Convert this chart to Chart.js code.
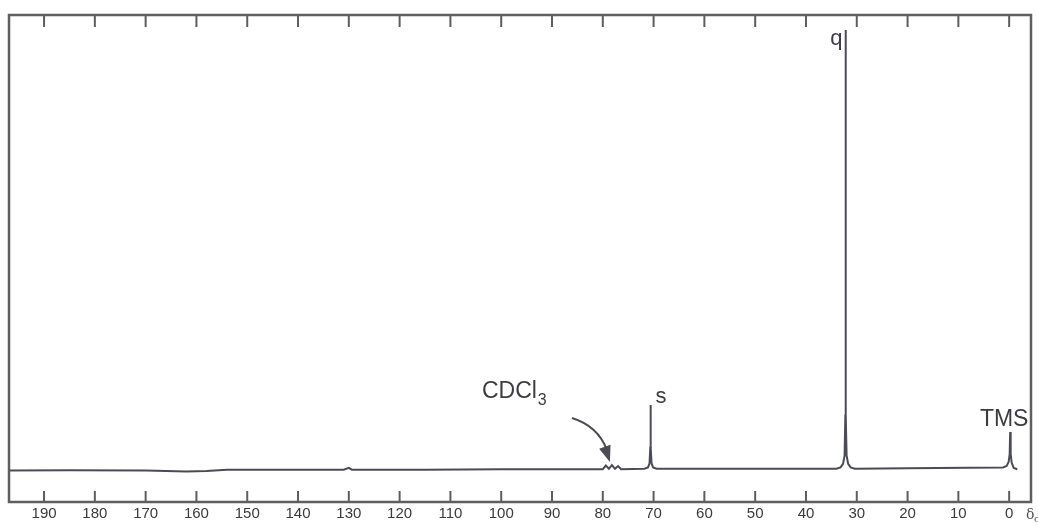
<!DOCTYPE html>
<html>
<head>
<meta charset="utf-8">
<script src="https://cdn.jsdelivr.net/npm/chart.js@4.4.0/dist/chart.umd.min.js"></script>
<style>
    html, body { margin: 0; padding: 0; background: #fff; }
    #wrap { width: 1038px; height: 525px; position: relative; }
</style>
</head>
<body>
<div id="wrap"><canvas id="nmrChart"></canvas></div>
<script>
// chemical shift (ppm) and relative intensity
const shifts = [
    196.9, 185, 170, 162, 158, 154, 145, 131, 130, 129.4, 115, 100, 88,
    80.0, 79.4, 78.8, 78.2, 77.6, 77.0, 76.4,
    71.8, 71.1, 70.8, 70.65, 70.6, 70.55, 70.4, 70.1, 69.4,
    55, 40,
    34.0, 33.2, 32.7, 32.4, 32.25, 32.2, 32.15, 32.0, 31.7, 31.2, 30.4,
    20, 8,
    1.2, 0.5, 0.1, -0.1, -0.2, -0.3, -0.5, -0.9, -1.6
];
const intensities = [
    -0.1, 0, -0.1, -0.3, -0.2, 0.1, 0.1, 0.1, 0.5, 0.1, 0.1, 0.2, 0.2,
    0.2, 1.0, 0.3, 1.1, 0.3, 0.9, 0.2,
    0.3, 0.6, 1.5, 5, 14.3, 5, 1.5, 0.6, 0.3,
    0.3, 0.3,
    0.3, 0.6, 1.4, 3.2, 12, 96.7, 12, 3.2, 1.4, 0.6, 0.3,
    0.4, 0.5,
    0.6, 0.9, 1.8, 3.5, 8.4, 3.5, 1.6, 0.5, 0.2
];
const tickValues = [0, 10, 20, 30, 40, 50, 60, 70, 80, 90, 100, 110, 120, 130, 140, 150, 160, 170, 180, 190];

// peak labels: [ppm, intensity at label, text]
const peakLabels = [
    [32.2, 96.7, 'q'],
    [70.6, 14.3, 's'],
    [-0.2, 8.4, 'TMS']
];

const lineColor = '#4b4b55';
const frameColor = '#5e5e62';

// frame, inner ticks and labels
const nmrDecor = {
    id: 'nmrDecor',
    afterDatasetsDraw(chart) {
        const ctx = chart.ctx;
        const area = chart.chartArea;
        const x = chart.scales.x;
        const y = chart.scales.y;
        ctx.save();

        // frame
        ctx.strokeStyle = frameColor;
        ctx.lineWidth = 2.5;
        ctx.strokeRect(area.left, area.top, area.right - area.left, area.bottom - area.top);

        // inner ticks at top and bottom
        ctx.lineWidth = 2;
        tickValues.forEach(v => {
            const px = x.getPixelForValue(v);
            ctx.beginPath();
            ctx.moveTo(px, area.top);
            ctx.lineTo(px, area.top + 12);
            ctx.moveTo(px, area.bottom);
            ctx.lineTo(px, area.bottom - 11);
            ctx.stroke();
        });

        // peak labels
        ctx.fillStyle = '#3c3c44';
        ctx.font = '22px "Liberation Sans", Arial, sans-serif';
        ctx.textBaseline = 'alphabetic';
        peakLabels.forEach(([ppm, val, text]) => {
            const px = x.getPixelForValue(ppm);
            const py = y.getPixelForValue(val);
            if (text === 'q') {
                ctx.textAlign = 'right';
                ctx.fillText(text, px - 3, py + 15);
            } else if (text === 's') {
                ctx.textAlign = 'left';
                ctx.fillText(text, px + 5, py - 2);
            } else {
                ctx.font = '23px "Liberation Sans", Arial, sans-serif';
                ctx.textAlign = 'center';
                ctx.fillText(text, px - 6, py - 6);
            }
        });

        // CDCl3 label with arrow
        const tipX = x.getPixelForValue(78.6);
        const tipY = y.getPixelForValue(1.8);
        ctx.textAlign = 'left';
        ctx.font = '23px "Liberation Sans", Arial, sans-serif';
        const base = 'CDCl';
        ctx.fillText(base, tipX - 128, tipY - 64);
        const w = ctx.measureText(base).width;
        ctx.font = '16px "Liberation Sans", Arial, sans-serif';
        ctx.fillText('3', tipX - 128 + w + 1, tipY - 57);

        const sx = tipX - 38, sy = tipY - 44;
        const cx = tipX - 12, cy = tipY - 36;
        ctx.strokeStyle = lineColor;
        ctx.lineWidth = 2;
        ctx.beginPath();
        ctx.moveTo(sx, sy);
        ctx.quadraticCurveTo(cx, cy, tipX - 3, tipY - 12);
        ctx.stroke();
        const ang = Math.atan2(tipY - cy, tipX - cx);
        ctx.fillStyle = lineColor;
        ctx.beginPath();
        ctx.moveTo(tipX, tipY);
        ctx.lineTo(tipX - 16 * Math.cos(ang) + 6 * Math.sin(ang), tipY - 16 * Math.sin(ang) - 6 * Math.cos(ang));
        ctx.lineTo(tipX - 16 * Math.cos(ang) - 6 * Math.sin(ang), tipY - 16 * Math.sin(ang) + 6 * Math.cos(ang));
        ctx.closePath();
        ctx.fill();

        // axis symbol
        ctx.fillStyle = '#555';
        ctx.font = '14px "DejaVu Serif", serif';
        ctx.textBaseline = 'middle';
        ctx.fillText('δ', area.right - 5, area.bottom + 13);
        ctx.font = '10px "DejaVu Serif", serif';
        ctx.fillText('c', area.right + 3, area.bottom + 17);

        ctx.restore();
    }
};

const points = shifts.map((s, i) => ({ x: s, y: intensities[i] }));

new Chart(document.getElementById('nmrChart'), {
    type: 'line',
    data: {
        datasets: [{
            data: points,
            borderColor: lineColor,
            borderWidth: 2,
            pointRadius: 0,
            tension: 0,
            fill: false
        }]
    },
    options: {
        responsive: true,
        maintainAspectRatio: false,
        animation: false,
        layout: { padding: { left: 9, right: 7, top: 15, bottom: 0 } },
        plugins: {
            legend: { display: false },
            tooltip: { enabled: false }
        },
        scales: {
            x: {
                type: 'linear',
                reverse: true,
                min: -4.3,
                max: 196.9,
                afterBuildTicks: axis => {
                    axis.ticks = tickValues.map(v => ({ value: v }));
                },
                grid: { display: false, drawTicks: false },
                border: { display: false },
                ticks: {
                    autoSkip: false,
                    maxRotation: 0,
                    padding: 4,
                    color: '#3a3a3a',
                    font: { family: '"Liberation Sans", Arial, sans-serif', size: 15, lineHeight: 1 }
                }
            },
            y: {
                display: false,
                min: -7,
                max: 100
            }
        }
    },
    plugins: [nmrDecor]
});
</script>
</body>
</html>
